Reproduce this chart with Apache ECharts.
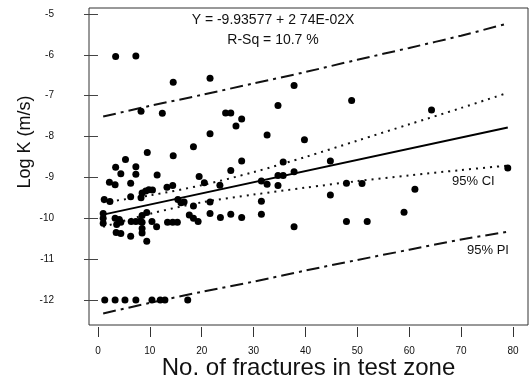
<!DOCTYPE html>
<html>
<head>
<meta charset="utf-8">
<script src="https://cdn.jsdelivr.net/npm/echarts@6/dist/echarts.min.js"></script>
<style>
html,body{margin:0;padding:0;background:#fff;}
#chart{width:529px;height:383px;}
</style>
</head>
<body>
<div id="chart"></div>
<script>
// Observed data: number of fractures vs Log K
const pointsX = [3.4,7.3,14.5,21.6,37.8,8.3,12.4,34.7,24.6,25.6,27.7,26.6,21.6,32.6,48.9,64.3,39.8,
  18.4,9.5,14.5,5.3,3.4,7.3,4.4,7.3,11.4,27.7,25.6,19.5,35.7,34.7,35.7,37.8,44.8,79.0,
  20.5,23.5,31.5,32.6,34.7,2.2,3.3,6.3,8.5,9.2,9.8,10.5,13.3,14.4,6.3,8.3,1.2,2.3,
  15.4,16.0,16.6,18.4,21.6,31.5,47.9,50.9,44.8,61.1,59.0,47.9,51.9,37.8,
  1.0,1.0,1.0,3.3,4.1,4.4,3.6,3.5,4.4,6.3,6.4,7.3,8.1,8.5,8.5,8.5,8.5,9.4,9.4,
  10.4,11.3,13.4,14.4,15.3,17.6,18.4,19.3,21.6,23.6,25.6,27.7,31.5,
  1.3,3.3,5.2,7.3,10.4,12.0,12.9,17.3];
const pointsY = [-6.04,-6.03,-6.67,-6.57,-6.75,-7.38,-7.43,-7.24,-7.42,-7.42,-7.57,-7.74,-7.93,-7.96,-7.12,-7.35,-8.08,
  -8.25,-8.39,-8.47,-8.56,-8.75,-8.74,-8.91,-8.92,-8.94,-8.60,-8.83,-8.98,-8.62,-8.95,-8.95,-8.86,-8.60,-8.77,
  -9.13,-9.19,-9.09,-9.17,-9.20,-9.12,-9.18,-9.14,-9.38,-9.33,-9.30,-9.31,-9.24,-9.20,-9.47,-9.50,-9.54,-9.59,
  -9.54,-9.62,-9.60,-9.70,-9.60,-9.58,-9.14,-9.15,-9.43,-9.29,-9.85,-10.08,-10.08,-10.21,
  -9.88,-10.0,-10.12,-10.0,-10.03,-10.1,-10.15,-10.35,-10.37,-10.44,-10.08,-10.08,-10.07,-9.93,-10.1,-10.25,-10.36,-9.86,-10.56,
  -10.08,-10.21,-10.10,-10.10,-10.10,-9.92,-10.0,-10.08,-9.88,-9.98,-9.90,-9.98,-9.90,
  -12,-12,-12,-12,-12,-12,-12,-12];

// Fit line and bands
const fitX = [1, 79];
const fitY = [-9.91, -7.78];
const bandX = [1, 10, 20, 30, 40, 50, 60, 70, 79];
const ciUpper = [-9.61, -9.44, -9.19, -8.87, -8.50, -8.10, -7.70, -7.30, -6.93];
const ciLower = [-10.21, -9.89, -9.61, -9.42, -9.25, -9.09, -8.95, -8.82, -8.71];
const piUpper = [-7.51, -7.25, -6.98, -6.70, -6.42, -6.12, -5.83, -5.53, -5.23];
const piLower = [-12.33, -12.07, -11.80, -11.55, -11.28, -11.02, -10.77, -10.52, -10.33];

const xTicks = [0, 10, 20, 30, 40, 50, 60, 70, 80];
const yTicks = [-12, -11, -10, -9, -8, -7, -6, -5];

const zip = (a, b) => a.map((v, i) => [v, b[i]]);
const FONT = 'Liberation Sans, Arial, Helvetica, sans-serif';

const chart = echarts.init(document.getElementById('chart'), null, {renderer: 'canvas'});
chart.setOption({
  animation: false,
  backgroundColor: '#fff',
  grid: {left: 89, right: 1, top: 8, bottom: 58, show: true, borderColor: '#333', borderWidth: 1,
    containLabel: false, outerBoundsMode: 'none'},
  xAxis: {
    type: 'value', min: -1.735, max: 82.9, offset: 2,
    axisLine: {show: false},
    axisTick: {show: true, length: 10, lineStyle: {color: '#333', width: 1}, customValues: xTicks},
    axisLabel: {customValues: xTicks, fontSize: 10, color: '#111', fontFamily: FONT, margin: 19},
    splitLine: {show: false},
    name: 'No. of fractures in test zone', nameLocation: 'middle', nameGap: 29, nameMoveOverlap: false,
    nameTextStyle: {fontSize: 24, color: '#111', fontFamily: FONT}
  },
  yAxis: {
    type: 'value', min: -12.612, max: -4.853, offset: 2,
    axisLine: {show: false},
    axisTick: {show: true, length: 14, lineStyle: {color: '#444', width: 1}, customValues: yTicks},
    axisLabel: {customValues: yTicks, fontSize: 10, color: '#111', fontFamily: FONT, margin: 33},
    splitLine: {show: false}
  },
  graphic: [
    {type: 'text', x: 25, y: 142, rotation: Math.PI / 2,
      style: {text: 'Log K (m/s)', font: '18px ' + FONT, fill: '#111', textAlign: 'center', textVerticalAlign: 'middle'}},
    {type: 'text', x: 273, y: 20,
      style: {text: 'Y = -9.93577 + 2 74E-02X', font: '14px ' + FONT, fill: '#111', textAlign: 'center', textVerticalAlign: 'middle'}},
    {type: 'text', x: 273, y: 40,
      style: {text: 'R-Sq = 10.7 %', font: '14px ' + FONT, fill: '#111', textAlign: 'center', textVerticalAlign: 'middle'}},
    {type: 'text', x: 452, y: 181,
      style: {text: '95% CI', font: '13px ' + FONT, fill: '#111', textAlign: 'left', textVerticalAlign: 'middle'}},
    {type: 'text', x: 467, y: 250,
      style: {text: '95% PI', font: '13px ' + FONT, fill: '#111', textAlign: 'left', textVerticalAlign: 'middle'}}
  ],
  series: [
    {type: 'line', data: zip(bandX, piUpper), symbol: 'none', smooth: 0.3,
      lineStyle: {color: '#111', width: 2, type: [13, 5, 3, 5]}, z: 2},
    {type: 'line', data: zip(bandX, piLower), symbol: 'none', smooth: 0.3,
      lineStyle: {color: '#111', width: 2, type: [13, 5, 3, 5]}, z: 2},
    {type: 'line', data: zip(bandX, ciUpper), symbol: 'none', smooth: 0.3,
      lineStyle: {color: '#111', width: 2, type: [2, 5]}, z: 2},
    {type: 'line', data: zip(bandX, ciLower), symbol: 'none', smooth: 0.3,
      lineStyle: {color: '#111', width: 2, type: [2, 5]}, z: 2},
    {type: 'line', data: zip(fitX, fitY), symbol: 'none',
      lineStyle: {color: '#000', width: 2, type: 'solid'}, z: 3},
    {type: 'scatter', data: zip(pointsX, pointsY), symbol: 'circle', symbolSize: 7,
      itemStyle: {color: '#000', opacity: 1}, z: 4}
  ]
});
</script>
</body>
</html>
